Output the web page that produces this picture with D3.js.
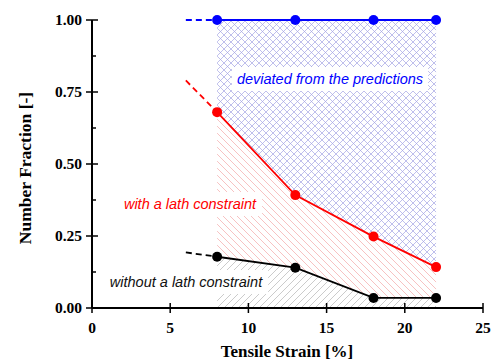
<!DOCTYPE html>
<html>
<head>
<meta charset="utf-8">
<script src="https://cdn.jsdelivr.net/npm/d3@7"></script>
<style>
  body { margin: 0; background: #fff; }
  svg { display: block; }
</style>
</head>
<body>
<div id="chart"></div>
<script>
// data
const strain = [8, 13, 18, 22];
const deviated = [1.0, 1.0, 1.0, 1.0];
const withLath = [0.68, 0.392, 0.248, 0.142];
const withoutLath = [0.178, 0.14, 0.035, 0.035];
// dashed lead-in segments (start points at 6 %)
const leadX = 6;
const leadBlue = 1.0;
const leadRed = 0.79;
const leadBlack = 0.193;
const xTicks = [0, 5, 10, 15, 20, 25];
const yTicks = [0, 0.25, 0.5, 0.75, 1.0];
const yMinor = [0.125, 0.375, 0.625, 0.875];

drawChart();

function drawChart() {
  const width = 496, height = 361;
  const svg = d3.select('#chart').append('svg')
    .attr('width', width)
    .attr('height', height);

  const x = d3.scaleLinear().domain([0, 25]).range([92, 483]);
  const y = d3.scaleLinear().domain([0, 1]).range([308, 20]);

  // hatch patterns
  const defs = svg.append('defs');
  const cross = defs.append('pattern')
    .attr('id', 'cross').attr('patternUnits', 'userSpaceOnUse')
    .attr('width', 7).attr('height', 7);
  cross.append('path').attr('d', 'M0,0L7,7M7,0L0,7')
    .attr('stroke', '#a4a4e4').attr('stroke-width', 0.7);
  const redH = defs.append('pattern')
    .attr('id', 'redh').attr('patternUnits', 'userSpaceOnUse')
    .attr('width', 7).attr('height', 7);
  redH.append('path').attr('d', 'M-1,-1L8,8M-1,6L1,8M6,-1L8,1')
    .attr('stroke', '#f4a8a8').attr('stroke-width', 0.7);
  const blackH = defs.append('pattern')
    .attr('id', 'blackh').attr('patternUnits', 'userSpaceOnUse')
    .attr('width', 7).attr('height', 7);
  blackH.append('path').attr('d', 'M-1,8L8,-1M-1,1L1,-1M6,8L8,6')
    .attr('stroke', '#b4b4b4').attr('stroke-width', 0.7);

  const pts = (ys) => strain.map((s, i) => [s, ys[i]]);
  const area = d3.area()
    .x(d => x(d[0]))
    .y0(d => y(d[1]))
    .y1(d => y(d[2]));

  // filled regions
  svg.append('path')
    .attr('d', area(strain.map((s, i) => [s, deviated[i], withLath[i]])))
    .attr('fill', 'url(#cross)');
  svg.append('path')
    .attr('d', area(strain.map((s, i) => [s, withLath[i], withoutLath[i]])))
    .attr('fill', 'url(#redh)');
  svg.append('path')
    .attr('d', area(strain.map((s, i) => [s, withoutLath[i], 0])))
    .attr('fill', 'url(#blackh)');

  // labels with white boxes
  const labels = [
    { text: 'deviated from the predictions', x: 330, y: 84, color: '#0000ff' },
    { text: 'with a lath constraint', x: 190, y: 209, color: '#ff0000' },
    { text: 'without a lath constraint', x: 186, y: 287, color: '#111' }
  ];
  labels.forEach(l => {
    const g = svg.append('g');
    const t = g.append('text')
      .attr('x', l.x).attr('y', l.y)
      .attr('text-anchor', 'middle')
      .attr('font-family', 'Liberation Sans, Arial, sans-serif')
      .attr('font-style', 'italic')
      .attr('font-size', 14.5)
      .attr('fill', l.color)
      .text(l.text);
    const bb = t.node().getBBox();
    g.insert('rect', 'text')
      .attr('x', bb.x - 5).attr('y', bb.y - 4)
      .attr('width', bb.width + 10).attr('height', bb.height + 8)
      .attr('fill', '#fff');
  });

  // axes
  const xAxis = svg.append('g').attr('transform', 'translate(0,308)');
  xAxis.append('line').attr('x1', 92).attr('x2', 483)
    .attr('stroke', '#000').attr('stroke-width', 2);
  xTicks.forEach(t => {
    xAxis.append('line').attr('x1', x(t)).attr('x2', x(t))
      .attr('y1', -5).attr('y2', 5)
      .attr('stroke', '#000').attr('stroke-width', 1.5);
    xAxis.append('text').attr('x', x(t)).attr('y', 25)
      .attr('text-anchor', 'middle')
      .attr('font-family', 'Liberation Serif, Times New Roman, serif')
      .attr('font-weight', 'bold').attr('font-size', 15.5)
      .text(t);
  });

  const yAxis = svg.append('g').attr('transform', 'translate(92,0)');
  yAxis.append('line').attr('y1', 20).attr('y2', 308)
    .attr('stroke', '#000').attr('stroke-width', 2);
  yTicks.forEach(t => {
    yAxis.append('line').attr('y1', y(t)).attr('y2', y(t))
      .attr('x1', -6).attr('x2', 6)
      .attr('stroke', '#000').attr('stroke-width', 1.5);
    yAxis.append('text').attr('x', -10).attr('y', y(t) + 5)
      .attr('text-anchor', 'end')
      .attr('font-family', 'Liberation Serif, Times New Roman, serif')
      .attr('font-weight', 'bold').attr('font-size', 15.5)
      .text(d3.format('.2f')(t));
  });
  yMinor.forEach(t => {
    yAxis.append('line').attr('y1', y(t)).attr('y2', y(t))
      .attr('x1', 0).attr('x2', 4)
      .attr('stroke', '#000').attr('stroke-width', 1.5);
  });

  svg.append('text')
    .attr('x', 287).attr('y', 357)
    .attr('text-anchor', 'middle')
    .attr('font-family', 'Liberation Serif, Times New Roman, serif')
    .attr('font-weight', 'bold').attr('font-size', 17)
    .text('Tensile Strain [%]');
  svg.append('text')
    .attr('transform', 'translate(31,168) rotate(-90)')
    .attr('text-anchor', 'middle')
    .attr('font-family', 'Liberation Serif, Times New Roman, serif')
    .attr('font-weight', 'bold').attr('font-size', 17.5)
    .text('Number Fraction [-]');

  // series
  const line = d3.line().x(d => x(d[0])).y(d => y(d[1]));
  const series = [
    { ys: deviated, lead: leadBlue, color: '#0000ff' },
    { ys: withLath, lead: leadRed, color: '#ff0000' },
    { ys: withoutLath, lead: leadBlack, color: '#000' }
  ];
  series.forEach(s => {
    svg.append('path')
      .attr('d', line([[leadX, s.lead], [strain[0], s.ys[0]]]))
      .attr('fill', 'none').attr('stroke', s.color)
      .attr('stroke-width', 1.8).attr('stroke-dasharray', '6,4');
    svg.append('path')
      .attr('d', line(pts(s.ys)))
      .attr('fill', 'none').attr('stroke', s.color)
      .attr('stroke-width', 1.8);
    svg.selectAll(null).data(pts(s.ys)).enter().append('circle')
      .attr('cx', d => x(d[0])).attr('cy', d => y(d[1]))
      .attr('r', 5).attr('fill', s.color);
  });
}
</script>
</body>
</html>
